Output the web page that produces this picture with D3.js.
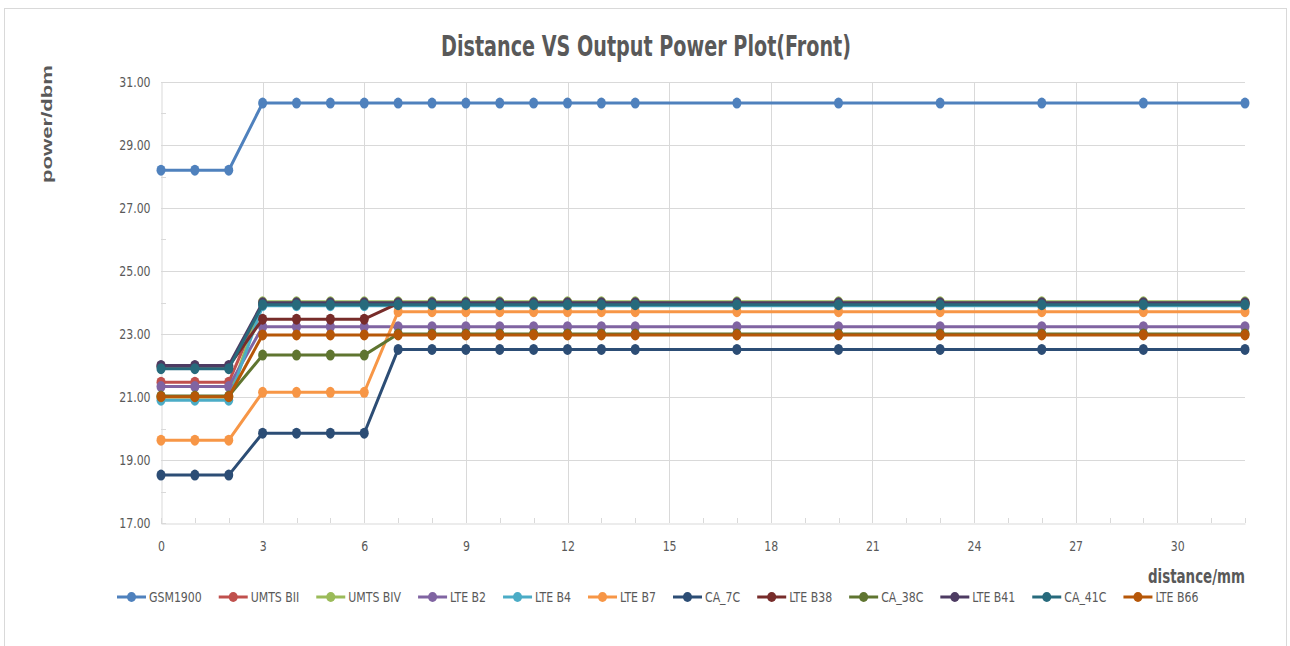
<!DOCTYPE html>
<html>
<head>
<meta charset="utf-8">
<script src="https://cdn.jsdelivr.net/npm/d3@7"></script>
<style>
  body { margin: 0; background: #fff; }
  text { fill: #595959; }
</style>
</head>
<body>
<div class="chart"></div>
<script>
// distance (mm) where power was measured
var distances = [0, 1, 2, 3, 4, 5, 6, 7, 8, 9, 10, 11, 12, 13, 14, 17, 20, 23, 26, 29, 32];

// output power (dbm) per band
var gsm1900 = [28.20, 28.20, 28.20, 30.33, 30.33, 30.33, 30.33, 30.33, 30.33, 30.33, 30.33, 30.33, 30.33, 30.33, 30.33, 30.33, 30.33, 30.33, 30.33, 30.33, 30.33];
var umtsBII = [21.47, 21.47, 21.47, 23.98, 23.98, 23.98, 23.98, 23.98, 23.98, 23.98, 23.98, 23.98, 23.98, 23.98, 23.98, 23.98, 23.98, 23.98, 23.98, 23.98, 23.98];
var umtsBIV = [21.00, 21.00, 21.00, 24.02, 24.02, 24.02, 24.02, 24.02, 24.02, 24.02, 24.02, 24.02, 24.02, 24.02, 24.02, 24.02, 24.02, 24.02, 24.02, 24.02, 24.02];
var lteB2 = [21.33, 21.33, 21.33, 23.23, 23.23, 23.23, 23.23, 23.23, 23.23, 23.23, 23.23, 23.23, 23.23, 23.23, 23.23, 23.23, 23.23, 23.23, 23.23, 23.23, 23.23];
var lteB4 = [20.90, 20.90, 20.90, 23.90, 23.90, 23.90, 23.90, 23.90, 23.90, 23.90, 23.90, 23.90, 23.90, 23.90, 23.90, 23.90, 23.90, 23.90, 23.90, 23.90, 23.90];
var lteB7 = [19.63, 19.63, 19.63, 21.15, 21.15, 21.15, 21.15, 23.71, 23.71, 23.71, 23.71, 23.71, 23.71, 23.71, 23.71, 23.71, 23.71, 23.71, 23.71, 23.71, 23.71];
var ca7C = [18.52, 18.52, 18.52, 19.85, 19.85, 19.85, 19.85, 22.51, 22.51, 22.51, 22.51, 22.51, 22.51, 22.51, 22.51, 22.51, 22.51, 22.51, 22.51, 22.51, 22.51];
var lteB38 = [21.98, 21.98, 21.98, 23.47, 23.47, 23.47, 23.47, 23.97, 23.97, 23.97, 23.97, 23.97, 23.97, 23.97, 23.97, 23.97, 23.97, 23.97, 23.97, 23.97, 23.97];
var ca38C = [21.03, 21.03, 21.03, 22.33, 22.33, 22.33, 22.33, 23.00, 23.00, 23.00, 23.00, 23.00, 23.00, 23.00, 23.00, 23.00, 23.00, 23.00, 23.00, 23.00, 23.00];
var lteB41 = [22.00, 22.00, 22.00, 23.99, 23.99, 23.99, 23.99, 23.99, 23.99, 23.99, 23.99, 23.99, 23.99, 23.99, 23.99, 23.99, 23.99, 23.99, 23.99, 23.99, 23.99];
var ca41C = [21.90, 21.90, 21.90, 23.93, 23.93, 23.93, 23.93, 23.93, 23.93, 23.93, 23.93, 23.93, 23.93, 23.93, 23.93, 23.93, 23.93, 23.93, 23.93, 23.93, 23.93];
var lteB66 = [21.01, 21.01, 21.01, 22.97, 22.97, 22.97, 22.97, 22.97, 22.97, 22.97, 22.97, 22.97, 22.97, 22.97, 22.97, 22.97, 22.97, 22.97, 22.97, 22.97, 22.97];

var seriesNames = ["GSM1900", "UMTS BII", "UMTS BIV", "LTE B2", "LTE B4", "LTE B7",
  "CA_7C", "LTE B38", "CA_38C", "LTE B41", "CA_41C", "LTE B66"];
var seriesValues = [gsm1900, umtsBII, umtsBIV, lteB2, lteB4, lteB7,
  ca7C, lteB38, ca38C, lteB41, ca41C, lteB66];

var yTicks = [17, 19, 21, 23, 25, 27, 29, 31];
var xTicks = [0, 3, 6, 9, 12, 15, 18, 21, 24, 27, 30];

var colors = ["#4f81bd", "#c0504d", "#9bbb59", "#8064a2", "#4bacc6", "#f79646",
  "#2c4d75", "#772c2a", "#5f7530", "#4d3b62", "#276a7c", "#b65708"];

var narrow = "'Liberation Sans Narrow', 'Arial Narrow', 'DejaVu Sans Condensed', 'Roboto Condensed', Roboto, sans-serif";
// squeeze factor so the text looks like the narrow original
var squeeze = 0.84;

var svgWidth = 1290;
var svgHeight = 646;

var margin = { top: 82, right: 45, bottom: 123, left: 161 };
var width = svgWidth - margin.left - margin.right;
var height = svgHeight - margin.top - margin.bottom;

var svg = d3.select(".chart")
  .append("svg")
  .attr("width", svgWidth)
  .attr("height", svgHeight);

// outer chart frame
svg.append("rect")
  .attr("x", 4.5)
  .attr("y", 8.5)
  .attr("width", 1282)
  .attr("height", 680)
  .attr("fill", "none")
  .attr("stroke", "#d9d9d9");

// title
svg.append("text")
  .attr("x", 646)
  .attr("y", 56)
  .attr("text-anchor", "middle")
  .attr("font-family", narrow)
  .attr("font-weight", "bold")
  .attr("font-size", 28)
  .attr("textLength", 410)
  .attr("lengthAdjust", "spacingAndGlyphs")
  .text("Distance VS Output Power Plot(Front)");

var chartGroup = svg.append("g")
  .attr("transform", `translate(${margin.left}, ${margin.top})`);

var xScale = d3.scaleLinear().domain([0, 32]).range([0, width]);
var yScale = d3.scaleLinear().domain([17, 31]).range([height, 0]);

// gridlines
chartGroup.append("g")
  .selectAll("line")
  .data(yTicks.slice(1))
  .enter()
  .append("line")
  .attr("x1", 0)
  .attr("x2", width)
  .attr("y1", d => Math.round(yScale(d)) + 0.5)
  .attr("y2", d => Math.round(yScale(d)) + 0.5)
  .attr("stroke", "#d9d9d9");

chartGroup.append("g")
  .selectAll("line")
  .data(xTicks.slice(1))
  .enter()
  .append("line")
  .attr("x1", d => Math.round(xScale(d)) + 0.5)
  .attr("x2", d => Math.round(xScale(d)) + 0.5)
  .attr("y1", 0)
  .attr("y2", height)
  .attr("stroke", "#d9d9d9");

// minor ticks, pointing inward
chartGroup.append("g")
  .selectAll("line")
  .data(d3.range(0, 33))
  .enter()
  .append("line")
  .attr("x1", d => Math.round(xScale(d)) + 0.5)
  .attr("x2", d => Math.round(xScale(d)) + 0.5)
  .attr("y1", height - 5)
  .attr("y2", height)
  .attr("stroke", "#d9d9d9");

chartGroup.append("g")
  .selectAll("line")
  .data(d3.range(17, 32))
  .enter()
  .append("line")
  .attr("x1", 0)
  .attr("x2", 5)
  .attr("y1", d => Math.round(yScale(d)) + 0.5)
  .attr("y2", d => Math.round(yScale(d)) + 0.5)
  .attr("stroke", "#d9d9d9");

// axes
var bottomAxis = d3.axisBottom(xScale).tickValues(xTicks).tickSize(0).tickPadding(17);
var leftAxis = d3.axisLeft(yScale).tickValues(yTicks).tickSize(0).tickPadding(13)
  .tickFormat(d3.format(".2f"));

var xAxis = chartGroup.append("g")
  .attr("transform", `translate(0, ${height + 0.5})`)
  .call(bottomAxis);

var yAxis = chartGroup.append("g")
  .attr("transform", "translate(0.5, 0)")
  .call(leftAxis);

[xAxis, yAxis].forEach(function(a) {
  a.select(".domain").attr("stroke", "#d9d9d9");
  a.selectAll("text")
    .attr("font-family", narrow)
    .attr("font-size", 14.5)
    .attr("fill", "#595959")
    .attr("transform", `scale(${squeeze}, 1)`);
});

// series lines and markers
var line = d3.line()
  .x((d, i) => xScale(distances[i]))
  .y(d => yScale(d));

seriesValues.forEach(function(values, s) {
  var g = chartGroup.append("g");
  g.append("path")
    .datum(values)
    .attr("d", line)
    .attr("fill", "none")
    .attr("stroke", colors[s])
    .attr("stroke-width", 3)
    .attr("stroke-linejoin", "round");

  g.selectAll("ellipse")
    .data(values)
    .enter()
    .append("ellipse")
    .attr("cx", (d, i) => xScale(distances[i]))
    .attr("cy", d => yScale(d))
    .attr("rx", 4.5)
    .attr("ry", 5.5)
    .attr("fill", colors[s]);
});

// axis titles
svg.append("text")
  .attr("transform", "translate(52, 124) rotate(-90)")
  .attr("text-anchor", "middle")
  .attr("font-family", "'Liberation Sans', Arial, sans-serif")
  .attr("font-weight", "bold")
  .attr("font-size", 15)
  .attr("textLength", 118)
  .attr("lengthAdjust", "spacingAndGlyphs")
  .text("power/dbm");

svg.append("text")
  .attr("x", 1245)
  .attr("y", 583)
  .attr("text-anchor", "end")
  .attr("font-family", narrow)
  .attr("font-weight", "bold")
  .attr("font-size", 19)
  .attr("textLength", 97)
  .attr("lengthAdjust", "spacingAndGlyphs")
  .text("distance/mm");

// legend
var legend = svg.append("g").attr("transform", "translate(0, 597)");
var legendX = 117;
seriesNames.forEach(function(name, s) {
  var item = legend.append("g").attr("transform", `translate(${legendX}, 0)`);
  item.append("line")
    .attr("x1", 0)
    .attr("x2", 29)
    .attr("stroke", colors[s])
    .attr("stroke-width", 3);
  item.append("ellipse")
    .attr("cx", 14.5)
    .attr("rx", 4.5)
    .attr("ry", 5)
    .attr("fill", colors[s]);
  var label = item.append("text")
    .attr("transform", `translate(32, 5) scale(${squeeze}, 1)`)
    .attr("font-family", narrow)
    .attr("font-size", 14.5)
    .text(name);
  legendX += 32 + label.node().getComputedTextLength() * squeeze + 17;
});
</script>
</body>
</html>
